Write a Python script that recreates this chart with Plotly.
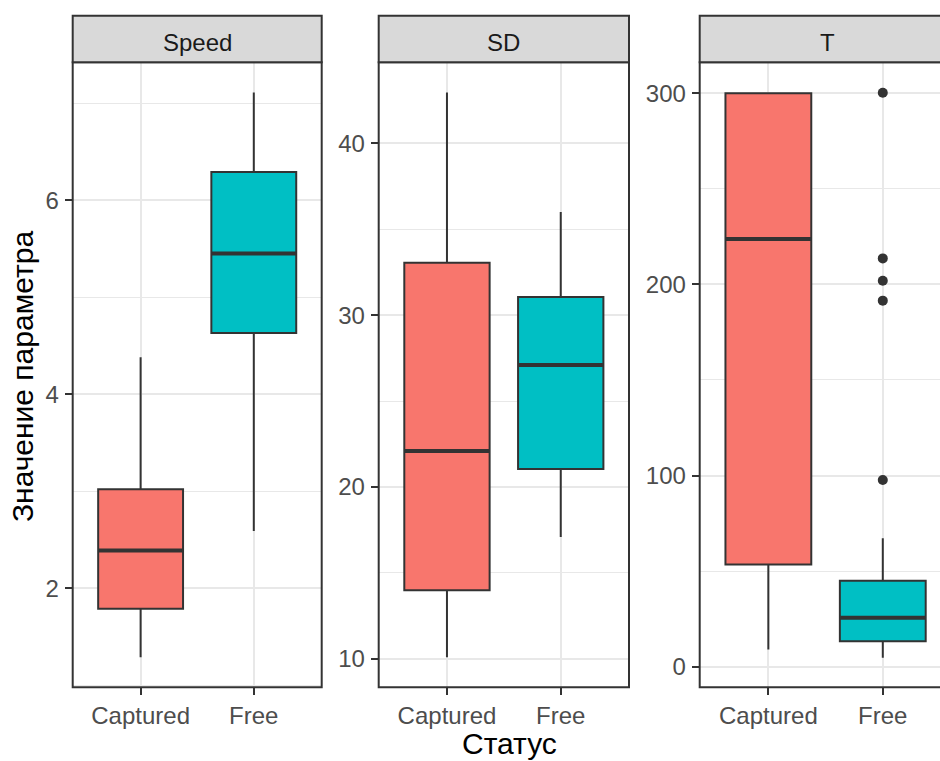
import plotly.graph_objects as go

# ---- data -------------------------------------------------------------
panels = ["Speed", "SD", "T"]
statuses = ["Captured", "Free"]
positions = [1, 2]

speed_lower = [1.29, 2.59]
speed_q1 = [1.79, 4.63]
speed_median = [2.39, 5.45]
speed_q3 = [3.02, 6.29]
speed_upper = [4.38, 7.11]

sd_lower = [10.1, 17.1]
sd_q1 = [14.0, 21.05]
sd_median = [22.1, 27.1]
sd_q3 = [33.05, 31.05]
sd_upper = [42.95, 36.0]

t_lower = [9.0, 4.7]
t_q1 = [53.4, 13.3]
t_median = [223.8, 25.6]
t_q3 = [300.0, 44.9]
t_upper = [300.0, 67.2]

t_free_outliers = [97.7, 191.5, 201.9, 213.6, 300.3]

# ---- styling ----------------------------------------------------------
W, H = 940, 761
FONT = "Liberation Sans, Arial, sans-serif"
fills = ["#F8766D", "#00BFC4"]
EDGE = "#333333"
GRID = "#E8E8E8"
BOX_W = 0.75

stats = [
    (speed_lower, speed_q1, speed_median, speed_q3, speed_upper, []),
    (sd_lower, sd_q1, sd_median, sd_q3, sd_upper, []),
    (t_lower, t_q1, t_median, t_q3, t_upper, t_free_outliers),
]

# panel geometry (pixels)
panel_x = [(72.7, 321.7), (378.7, 629.0), (699.7, 940.0)]
panel_top, panel_bot = 62.3, 687.3
strip_top = 15.7
y_ranges = [[0.98, 7.42], [8.35, 44.71], [-10.8, 316.2]]
x_ranges = [[0.4, 2.6], [0.4, 2.6], [0.4, 2.5]]
y_dtick = [2, 10, 100]

def px_x(v):
    return v / W

def px_y(v):
    return 1 - v / H

fig = go.Figure()

for p, (lo, q1, med, q3, hi, outl) in enumerate(stats):
    xa = "x" if p == 0 else f"x{p + 1}"
    ya = "y" if p == 0 else f"y{p + 1}"
    for i, pos in enumerate(positions):
        fig.add_trace(go.Box(
            x=[pos], q1=[q1[i]], median=[med[i]], q3=[q3[i]],
            lowerfence=[lo[i]], upperfence=[hi[i]],
            width=BOX_W, whiskerwidth=0, boxpoints=False,
            fillcolor=fills[i], line=dict(color=EDGE, width=2),
            xaxis=xa, yaxis=ya, showlegend=False, hoverinfo="skip",
        ))
        # thicker median bar
        fig.add_trace(go.Scatter(
            x=[pos - BOX_W / 2, pos + BOX_W / 2], y=[med[i], med[i]],
            mode="lines", line=dict(color=EDGE, width=4),
            xaxis=xa, yaxis=ya, showlegend=False, hoverinfo="skip",
        ))
    if outl:
        fig.add_trace(go.Scatter(
            x=[positions[1]] * len(outl), y=outl, mode="markers",
            marker=dict(color=EDGE, size=10),
            xaxis=xa, yaxis=ya, showlegend=False, hoverinfo="skip",
        ))

layout = dict(
    width=W, height=H,
    margin=dict(l=0, r=0, t=0, b=0),
    paper_bgcolor="white", plot_bgcolor="white",
    font=dict(family=FONT, size=24, color="#4D4D4D"),
    showlegend=False,
)

shapes = []
annotations = []
dom_y = [px_y(panel_bot), px_y(panel_top)]
for p in range(3):
    xs = "" if p == 0 else str(p + 1)
    x0, x1 = panel_x[p]
    x1_draw = x1 + (15 if p == 2 else 0)
    dom_x = [px_x(x0), min(1.0, px_x(x1))]
    layout[f"xaxis{xs}"] = dict(
        domain=dom_x, range=x_ranges[p], anchor=f"y{xs}",
        tickmode="array", tickvals=positions, ticktext=statuses,
        showgrid=True, gridcolor=GRID, gridwidth=1.5, zeroline=False,
        showline=False, ticks="outside", ticklen=7, tickwidth=2, tickcolor=EDGE,
        tickfont=dict(family=FONT, size=24, color="#4D4D4D"),
        automargin=False, fixedrange=True,
    )
    layout[f"yaxis{xs}"] = dict(
        domain=dom_y, range=y_ranges[p], anchor=f"x{xs}",
        tick0=0, dtick=y_dtick[p],
        showgrid=True, gridcolor=GRID, gridwidth=1.5, zeroline=False,
        minor=dict(dtick=y_dtick[p] / 2, tick0=0, showgrid=True,
                   gridcolor=GRID, gridwidth=1.0, ticks=""),
        showline=False, ticks="outside", ticklen=7, tickwidth=2, tickcolor=EDGE,
        ticklabelstandoff=1,
        tickfont=dict(family=FONT, size=24, color="#4D4D4D"),
        automargin=False, fixedrange=True,
    )
    # panel border
    shapes.append(dict(
        type="rect", xref="paper", yref="paper",
        x0=px_x(x0), x1=px_x(x1_draw),
        y0=dom_y[0], y1=dom_y[1],
        line=dict(color=EDGE, width=2), fillcolor="rgba(0,0,0,0)", layer="above",
    ))
    # facet strip
    shapes.append(dict(
        type="rect", xref="paper", yref="paper",
        x0=px_x(x0), x1=px_x(x1_draw),
        y0=px_y(panel_top), y1=px_y(strip_top),
        line=dict(color=EDGE, width=2), fillcolor="#D9D9D9", layer="above",
    ))
    annotations.append(dict(
        text=panels[p], xref="paper", yref="paper",
        x=px_x((x0 + x1_draw) / 2), y=px_y((strip_top + panel_top) / 2 + 3),
        xanchor="center", yanchor="middle", showarrow=False,
        font=dict(family=FONT, size=24, color="#1A1A1A"),
    ))

# axis titles
annotations.append(dict(
    text="Статус", xref="paper", yref="paper",
    x=px_x(510), y=px_y(743), xanchor="center", yanchor="middle",
    showarrow=False, font=dict(family=FONT, size=30, color="black"),
))
annotations.append(dict(
    text="Значение параметра", xref="paper", yref="paper",
    x=px_x(22), y=px_y(377), xanchor="center", yanchor="middle",
    textangle=-90, showarrow=False,
    font=dict(family=FONT, size=30, color="black"),
))

layout["shapes"] = shapes
layout["annotations"] = annotations
fig.update_layout(**layout)

fig.write_html("out.html")
